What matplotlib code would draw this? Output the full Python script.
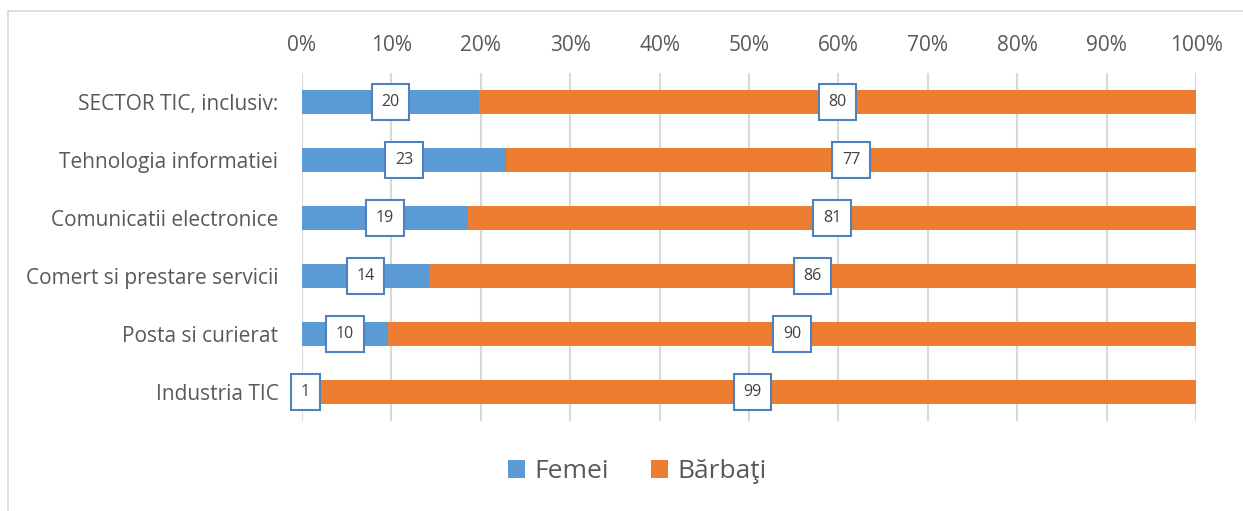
import matplotlib.pyplot as plt
from matplotlib.patches import Rectangle

categorii = ["SECTOR TIC, inclusiv:", "Tehnologia informatiei", "Comunicatii electronice",
             "Comert si prestare servicii", "Posta si curierat", "Industria TIC"]
femei = [19.8, 22.8, 18.6, 14.2, 9.6, 0.8]
barbati = [80.2, 77.2, 81.4, 85.8, 90.4, 99.2]
ticks = [0, 10, 20, 30, 40, 50, 60, 70, 80, 90, 100]

albastru = "#5b9bd5"
portocaliu = "#ed7d31"
text_col = "#595959"
font = ["Open Sans", "DejaVu Sans"]
plt.rcParams["font.family"] = font

fig = plt.figure(figsize=(12.43, 5.11), dpi=100)
ax = fig.add_axes([302 / 1243, 1 - 421 / 511, 894 / 1243, 348 / 511])

# chenar
fig.patches.append(Rectangle((8 / 1243, -0.1), 1.2, 1 - 11 / 511 + 0.1, transform=fig.transFigure,
                             fill=False, edgecolor="#d9d9d9", linewidth=1.2))

y = list(range(len(categorii)))
b1 = ax.barh(y, femei, height=0.4, color=albastru, label="Femei", zorder=2)
b2 = ax.barh(y, barbati, left=femei, height=0.4, color=portocaliu, label="Bărbaţi", zorder=2)

for i in y:
    for start, val in [(0, femei[i]), (femei[i], barbati[i])]:
        ax.text(start + val / 2, i, f"{val:.0f}", ha="center", va="center", fontsize=11.5,
                color="#404040", zorder=4,
                bbox=dict(boxstyle="square,pad=0.6", facecolor="white",
                          edgecolor="#4f81bd", linewidth=1.5))

ax.set_xlim(0, 100)
ax.set_ylim(len(categorii) - 0.5, -0.5)
ax.set_xticks(ticks)
ax.set_xticklabels([f"{t}%" for t in ticks])
ax.xaxis.tick_top()
ax.tick_params(axis="x", length=0, pad=12, labelsize=15, labelcolor=text_col)
ax.set_yticks(y)
ax.set_yticklabels(categorii)
ax.tick_params(axis="y", length=0, pad=17, labelsize=15, labelcolor=text_col)
ax.grid(axis="x", color="#d9d9d9", linewidth=1.5, zorder=0)
ax.set_axisbelow(True)
for s in ax.spines.values():
    s.set_visible(False)

leg = fig.legend(handles=[b1, b2], loc="center", bbox_to_anchor=(637 / 1243, 1 - 472 / 511),
                 ncol=2, frameon=False, fontsize=19, handlelength=0.65, handleheight=0.65,
                 columnspacing=1.6, handletextpad=0.35)
for t in leg.get_texts():
    t.set_color(text_col)

fig.savefig("out.png", dpi=100)
